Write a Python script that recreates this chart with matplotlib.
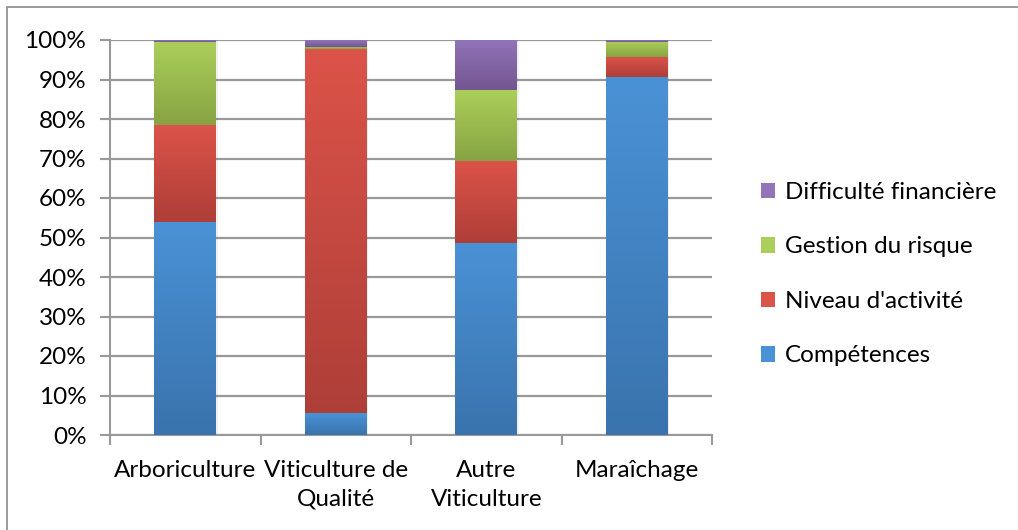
import matplotlib
matplotlib.use("Agg")
import matplotlib.pyplot as plt
import numpy as np
from matplotlib.colors import LinearSegmentedColormap
from matplotlib.patches import Rectangle

categories = ["Arboriculture", "Viticulture de\nQualité", "Autre\nViticulture", "Maraîchage"]
series_names = ["Compétences", "Niveau d'activité", "Gestion du risque", "Difficulté financière"]
competences = [54.0, 5.5, 48.6, 90.6]
niveau = [24.5, 92.2, 20.8, 5.1]
gestion = [21.1, 0.6, 17.9, 3.8]
difficulte = [0.4, 1.7, 12.7, 0.5]
yticks = [0, 10, 20, 30, 40, 50, 60, 70, 80, 90, 100]
ytick_labels = ["0%", "10%", "20%", "30%", "40%", "50%", "60%", "70%", "80%", "90%", "100%"]

series = [competences, niveau, gestion, difficulte]
# (top color, bottom color) for gradient
colors = [("#4a92d6", "#3a73ad"), ("#dc5349", "#ae3f38"), ("#abcf5a", "#87a343"), ("#9274b8", "#735690")]

plt.rcParams['font.family'] = ['Lato', 'DejaVu Sans']
FS = 17.5

fig = plt.figure(figsize=(10.18, 5.30), dpi=100)
ax = fig.add_axes([110/1018, 95/530, 602/1018, 395/530])

x = np.arange(len(categories))
bottom = np.zeros(len(categories))
width = 0.41
grad = np.linspace(0, 1, 256).reshape(-1, 1)
handles = []
for vals, name, (ctop, cbot) in zip(series, series_names, colors):
    bars = ax.bar(x, vals, width, bottom=bottom, color=ctop, label=name, zorder=3, linewidth=0)
    cmap = LinearSegmentedColormap.from_list(name, [cbot, ctop])
    for b in bars:
        x0, y0 = b.get_x(), b.get_y()
        w, h = b.get_width(), b.get_height()
        if h <= 0:
            continue
        ax.imshow(grad, cmap=cmap, extent=[x0, x0 + w, y0, y0 + h], origin='lower',
                  aspect='auto', zorder=4, interpolation='bilinear')
        # faint shadow on the right
        ax.add_patch(Rectangle((x0 + w, y0), 0.012, h, color='#000000', alpha=0.06, zorder=2, lw=0))
    handles.append(Rectangle((0, 0), 1, 1, facecolor=ctop, edgecolor='none'))
    bottom = bottom + np.array(vals)

ax.set_xlim(-0.5, len(categories) - 0.5)
ax.set_ylim(0, 100)
ax.set_yticks(yticks)
ax.set_yticklabels(ytick_labels, fontsize=FS)
ax.set_xticks(x)
ax.set_xticklabels(categories, fontsize=FS, linespacing=1.45)
ax.set_xticks(np.arange(-0.5, len(categories)), minor=True)
ax.tick_params(axis='x', which='major', length=0, pad=18)
ax.tick_params(axis='x', which='minor', length=7, color='#999999', width=1.5)
ax.tick_params(axis='y', length=7, color='#999999', width=1.5, pad=10)
ax.yaxis.grid(True, color='#999999', linewidth=1.6, zorder=1)
ax.set_axisbelow(True)
for s in ['top', 'right']:
    ax.spines[s].set_visible(False)
for s in ['left', 'bottom']:
    ax.spines[s].set_color('#999999')
    ax.spines[s].set_linewidth(1.5)

leg = fig.legend(handles[::-1], series_names[::-1], loc='upper left',
                 bbox_to_anchor=(739/1018, 1 - 160/530), frameon=False,
                 fontsize=FS, labelspacing=1.38, handlelength=0.6, handleheight=0.6,
                 handletextpad=0.4)

# chart frame
fig.add_artist(Rectangle((7/1018, -0.01), 1.02, 1 - 7/530 + 0.01, transform=fig.transFigure,
                         fill=False, edgecolor='#8a8a8a', linewidth=1.2))

fig.savefig("out.png", dpi=100)
